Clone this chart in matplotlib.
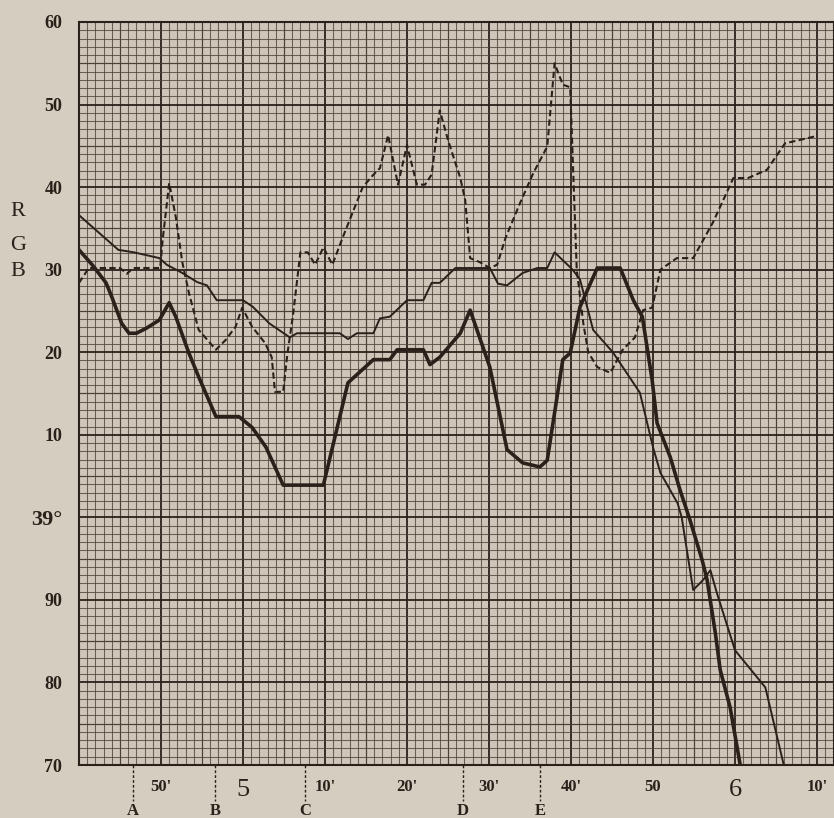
import matplotlib.pyplot as plt
from matplotlib.ticker import MultipleLocator

# x: minutes after 4h (left edge = 4h40m), y: scale units (0 = 70, 30 = 39°, 90 = 60)
DASH_X = [40.0, 41.2, 45.0, 45.85, 46.6, 49.9, 50.2, 51.0, 51.8, 52.6, 53.4, 54.6, 56.7, 57.9, 59.1,
          59.9, 61.1, 62.7, 63.5, 63.9, 64.9, 65.4, 66.1, 67.0, 67.9, 68.8, 69.8, 70.9, 72.2, 74.6,
          75.9, 76.7, 77.7, 78.9, 80.0, 81.2, 82.2, 83.0, 84.0, 85.0, 86.5, 87.1, 87.7, 88.9, 90.1,
          91.0, 92.0, 93.8, 95.4, 97.1, 98.0, 99.0, 99.9, 100.7, 101.5, 102.1, 103.2, 104.8, 106.3,
          107.8, 108.8, 109.9, 110.9, 112.9, 114.9, 117.3, 119.8, 121.6, 123.9, 126.1, 130.0]
DASH_Y = [58.4, 60.2, 60.2, 59.5, 60.2, 60.2, 63.6, 70.5, 66.4, 60.9, 57.2, 52.7, 50.3, 51.5, 53.1,
          55.4, 53.1, 51.1, 49.4, 45.2, 45.2, 49.7, 54.5, 62.1, 62.1, 60.6, 62.7, 60.6, 64.0, 70.0,
          71.5, 72.3, 76.3, 70.3, 75.1, 70.3, 70.3, 71.5, 79.3, 75.7, 71.1, 68.4, 61.4, 60.9, 60.2,
          60.6, 63.8, 68.1, 71.7, 74.9, 85.0, 82.4, 82.1, 60.0, 53.5, 50.0, 48.2, 47.5, 50.3,
          51.8, 55.1, 55.4, 60.0, 61.4, 61.4, 65.7, 71.1, 71.1, 72.1, 75.3, 76.2]

THIN_X = [40.0, 44.8, 46.7, 49.8, 50.7, 52.6, 54.4, 55.6, 56.8, 60.0, 61.2, 63.2, 65.7, 66.6, 71.8,
          72.8, 73.9, 75.9, 76.7, 77.9, 80.0, 82.0, 83.0, 84.0, 85.9, 90.1, 91.1, 92.2, 94.1, 95.9,
          97.1, 98.0, 100.2, 101.1, 102.7, 105.1, 108.4, 110.0, 110.9, 113.0, 113.5, 114.9, 116.1,
          117.0, 117.8, 120.0, 123.7, 125.9]
THIN_Y = [66.6, 62.4, 62.1, 61.4, 60.6, 59.6, 58.5, 58.1, 56.3, 56.3, 55.5, 53.5, 51.8, 52.3, 52.3,
          51.6, 52.3, 52.3, 54.1, 54.3, 56.3, 56.3, 58.4, 58.4, 60.2, 60.2, 58.3, 58.1, 59.6, 60.2,
          60.2, 62.1, 60.0, 58.8, 52.7, 50.0, 45.1, 38.5, 35.4, 31.7, 30.0, 21.2, 22.4,
          23.6, 20.8, 13.9, 9.4, 0.2]

THICK_X = [40.0, 41.6, 43.3, 44.0, 45.2, 46.1, 47.0, 48.2, 49.8, 51.0, 51.8, 53.4, 54.6, 56.7, 59.5,
           61.1, 62.8, 64.9, 69.8, 72.8, 75.9, 77.9, 78.8, 82.0, 82.8, 84.0, 86.5, 87.7, 90.1, 92.2,
           94.1, 96.2, 97.1, 99.0, 99.9, 101.1, 103.2, 106.0, 107.6, 108.7, 109.9, 110.5, 112.1,
           113.3, 114.5, 116.0, 116.6, 117.6, 118.2, 119.4, 120.6]
THICK_Y = [62.4, 60.6, 58.4, 56.7, 53.5, 52.3, 52.3, 52.9, 53.9, 56.0, 54.3, 49.9, 47.0, 42.2, 42.2,
           40.9, 38.5, 33.9, 33.9, 46.3, 49.1, 49.1, 50.3, 50.3, 48.5, 49.4, 52.3, 55.1, 48.2, 38.2,
           36.6, 36.1, 36.9, 49.1, 49.9, 55.5, 60.2, 60.2, 56.3, 54.3, 46.6, 41.4, 37.3,
           33.3, 29.7, 24.8, 22.4, 16.0, 11.5, 7.0, 0.2]

X_TICKS = [40, 50, 60, 70, 80, 90, 100, 110, 120, 130]
X_LABELS = ['', "50'", '5', "10'", "20'", "30'", "40'", '50', '6', "10'"]
Y_TICKS = [0, 10, 20, 30, 40, 50, 60, 70, 80, 90]
Y_LABELS = ['70', '80', '90', '39°', '10', '20', '30', '40', '50', '60']
MARK_X = [46.6, 56.6, 67.6, 86.8, 96.2]
MARK_LABELS = ['A', 'B', 'C', 'D', 'E']

PAPER = '#d5cdc0'
INK = '#2a211b'
SERIF = ['Liberation Serif', 'DejaVu Serif']

fig = plt.figure(figsize=(8.34, 8.18), dpi=100, facecolor=PAPER)
ax = fig.add_axes([79 / 834, 53 / 818, 755 / 834, 743 / 818], facecolor='#cfc6b9')

# graph paper
ax.xaxis.set_minor_locator(MultipleLocator(1))
ax.yaxis.set_minor_locator(MultipleLocator(1))
ax.grid(which='minor', color='#4f443a', lw=0.75, alpha=0.8)
ax.grid(which='major', color=INK, lw=1.3)
for v in range(45, 131, 10):
    ax.axvline(v, color='#40362e', lw=0.85, zorder=0.5)
for v in range(5, 90, 10):
    ax.axhline(v, color='#40362e', lw=0.85, zorder=0.5)
ax.set_axisbelow(True)

ax.plot(DASH_X, DASH_Y, color=INK, lw=1.5, ls=(0, (3, 1.6)), zorder=3)
ax.plot(THIN_X, THIN_Y, color=INK, lw=1.4, zorder=3)
ax.plot(THICK_X, THICK_Y, color=INK, lw=2.6, zorder=3)

ax.set_xlim(40, 40 + 755 / 8.2)
ax.set_ylim(0, 90)

ax.set_xticks(X_TICKS, X_LABELS)
ax.set_yticks(Y_TICKS, Y_LABELS)
ax.tick_params(which='both', length=0)
ax.tick_params(axis='x', pad=10)
ax.tick_params(axis='y', pad=12)
for lab in ax.get_xticklabels():
    t = lab.get_text()
    lab.set_fontfamily(SERIF)
    lab.set_color(INK)
    if t in ('5', '6'):
        lab.set_fontsize(19)
    else:
        lab.set_fontsize(12)
        lab.set_fontweight('bold')
for lab in ax.get_yticklabels():
    lab.set_fontfamily(SERIF)
    lab.set_fontweight('bold')
    lab.set_color(INK)
    lab.set_fontsize(16 if lab.get_text() == '39°' else 13)

for s in ax.spines.values():
    s.set_color(INK)
    s.set_linewidth(1.5)

# A..E reference marks under the axis
trans = ax.get_xaxis_transform()
for mx, ml in zip(MARK_X, MARK_LABELS):
    ax.plot([mx, mx], [0, -0.048], transform=trans, color=INK, lw=1.0,
            ls=(0, (2, 1.5)), clip_on=False)
    ax.text(mx, -0.062, ml, transform=trans, ha='center', va='center',
            fontsize=12, fontweight='bold', family=SERIF, color=INK)

# curve names at the left
for ty, tl in zip([212, 245, 272], ['R', 'G', 'B']):
    fig.text(18 / 834, 1 - ty / 818, tl, ha='center', va='center', fontsize=16,
             family=SERIF, color=INK)

fig.savefig('out.png', dpi=100, facecolor=PAPER)
